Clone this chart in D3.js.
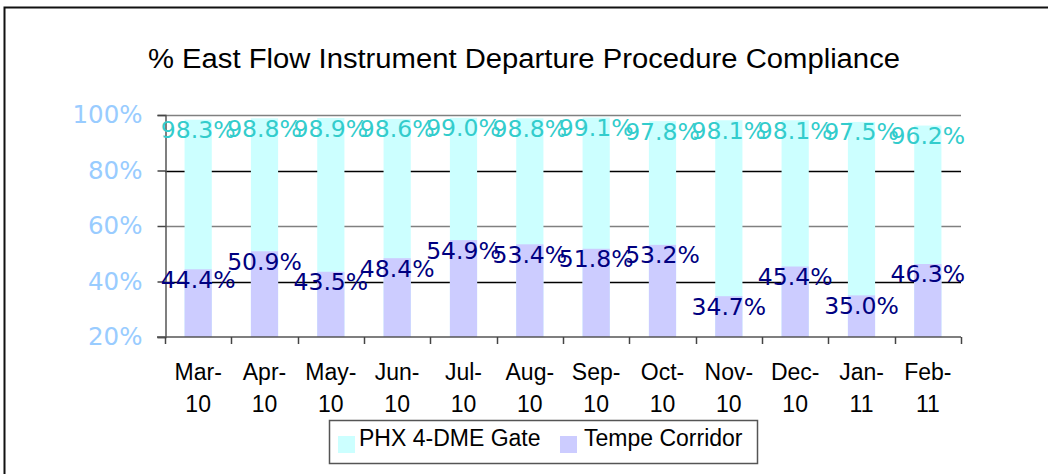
<!DOCTYPE html>
<html>
<head>
<meta charset="utf-8">
<script src="https://cdn.jsdelivr.net/npm/d3@7"></script>
<style>
  html, body { margin: 0; padding: 0; background: #fff; }
  svg { display: block; }
</style>
</head>
<body>
<svg id="chart" width="1048" height="474"></svg>
<script>
const title = "% East Flow Instrument Departure Procedure Compliance";
const months = ["Mar-", "Apr-", "May-", "Jun-", "Jul-", "Aug-", "Sep-", "Oct-", "Nov-", "Dec-", "Jan-", "Feb-"];
const years = ["10", "10", "10", "10", "10", "10", "10", "10", "10", "10", "11", "11"];
const seriesNames = ["PHX 4-DME Gate", "Tempe Corridor"];
const phxGate = [98.3, 98.8, 98.9, 98.6, 99.0, 98.8, 99.1, 97.8, 98.1, 98.1, 97.5, 96.2];
const tempeCorridor = [44.4, 50.9, 43.5, 48.4, 54.9, 53.4, 51.8, 53.2, 34.7, 45.4, 35.0, 46.3];
const yTicks = [20, 40, 60, 80, 100];

const svg = d3.select("#chart");
const W = 1048, H = 474;

// outer border (left and top visible)
svg.append("path")
  .attr("d", `M4.5,${H} L4.5,7.5 L${W},7.5`)
  .attr("fill", "none").attr("stroke", "#111").attr("stroke-width", 2);

const x = d3.scaleBand().domain(d3.range(months.length)).range([165, 961]).paddingInner(0.59).paddingOuter(0.295);
const y = d3.scaleLinear().domain([20, 100]).range([337, 115]);

// title
svg.append("text")
  .attr("x", 148).attr("y", 68)
  .attr("font-family", "Liberation Sans, Arial, sans-serif")
  .attr("font-size", 27)
  .attr("textLength", 752)
  .attr("lengthAdjust", "spacingAndGlyphs")
  .attr("fill", "#000")
  .text(title);

// gridlines
const gridColor = {20: "#808080", 40: "#000", 60: "#808080", 80: "#000", 100: "#808080"};
svg.append("g").selectAll("line").data(yTicks.filter(d => d > 20)).join("line")
  .attr("x1", 165).attr("x2", 961)
  .attr("y1", d => Math.round(y(d)) + 0.5).attr("y2", d => Math.round(y(d)) + 0.5)
  .attr("stroke", d => gridColor[d]).attr("stroke-width", 1.5);

// bars: PHX behind, Tempe in front (overlapped)
svg.append("g").selectAll("rect").data(phxGate).join("rect")
  .attr("x", (d, i) => x(i)).attr("width", x.bandwidth())
  .attr("y", d => y(d)).attr("height", d => y(20) - y(d))
  .attr("fill", "#CCFFFF");
svg.append("g").selectAll("rect").data(tempeCorridor).join("rect")
  .attr("x", (d, i) => x(i)).attr("width", x.bandwidth())
  .attr("y", d => y(d)).attr("height", d => y(20) - y(d))
  .attr("fill", "#CCCCFF");

// y axis
const yAxis = d3.axisLeft(y).tickValues(yTicks).tickSize(8).tickFormat(d => d + "%");
const gy = svg.append("g").attr("transform", "translate(165.5,0)").call(yAxis);
gy.select(".domain").attr("stroke", "#555").attr("stroke-width", 1.5);
gy.selectAll(".tick line").attr("stroke", "#444").attr("stroke-width", 1.5);
gy.selectAll(".tick text")
  .attr("x", -23)
  .attr("font-family", "DejaVu Sans, Verdana, sans-serif")
  .attr("font-size", 24.5)
  .attr("fill", "#99CCFF");

// x axis
const xEdge = d3.scaleLinear().domain([0, months.length]).range([165, 961]);
const gx = svg.append("g");
gx.append("line").attr("x1", 157).attr("x2", 961).attr("y1", 337).attr("y2", 337)
  .attr("stroke", "#555").attr("stroke-width", 1.5);
gx.selectAll("line.tk").data(d3.range(months.length + 1)).join("line").attr("class", "tk")
  .attr("x1", d => Math.round(xEdge(d)) + 0.5).attr("x2", d => Math.round(xEdge(d)) + 0.5)
  .attr("y1", 337).attr("y2", 344)
  .attr("stroke", "#444").attr("stroke-width", 1.5);
const catText = gx.selectAll("text.cat").data(months).join("text").attr("class", "cat")
  .attr("text-anchor", "middle")
  .attr("font-family", "Liberation Sans, Arial, sans-serif")
  .attr("font-size", 23)
  .attr("fill", "#000");
catText.append("tspan").attr("x", (d, i) => x(i) + x.bandwidth() / 2).attr("y", 380).text(d => d);
catText.append("tspan").attr("x", (d, i) => x(i) + x.bandwidth() / 2).attr("y", 412).text((d, i) => years[i]);

// data labels
svg.append("g").selectAll("text").data(phxGate).join("text")
  .attr("x", (d, i) => x(i) + x.bandwidth() / 2)
  .attr("y", d => y(d) + 10)
  .attr("dy", "0.36em")
  .attr("text-anchor", "middle")
  .attr("font-family", "DejaVu Sans, Verdana, sans-serif")
  .attr("font-size", 23.5)
  .attr("fill", "#33CCCC")
  .text(d => d.toFixed(1) + "%");
svg.append("g").selectAll("text").data(tempeCorridor).join("text")
  .attr("x", (d, i) => x(i) + x.bandwidth() / 2)
  .attr("y", d => y(d) + 10)
  .attr("dy", "0.36em")
  .attr("text-anchor", "middle")
  .attr("font-family", "DejaVu Sans, Verdana, sans-serif")
  .attr("font-size", 23.5)
  .attr("fill", "#000080")
  .text(d => d.toFixed(1) + "%");

// legend
const lg = svg.append("g");
lg.append("rect").attr("x", 329.5).attr("y", 420.5).attr("width", 428).attr("height", 43)
  .attr("fill", "#fff").attr("stroke", "#555").attr("stroke-width", 1.5);
const legendItems = [
  {name: seriesNames[0], color: "#CCFFFF", sx: 338, tx: 359},
  {name: seriesNames[1], color: "#CCCCFF", sx: 560, tx: 584}
];
legendItems.forEach(it => {
  lg.append("rect").attr("x", it.sx).attr("y", 436).attr("width", 17).attr("height", 17).attr("fill", it.color);
  lg.append("text").attr("x", it.tx).attr("y", 446)
    .attr("font-family", "Liberation Sans, Arial, sans-serif")
    .attr("font-size", 23)
    .attr("fill", "#000")
    .text(it.name);
});
</script>
</body>
</html>
